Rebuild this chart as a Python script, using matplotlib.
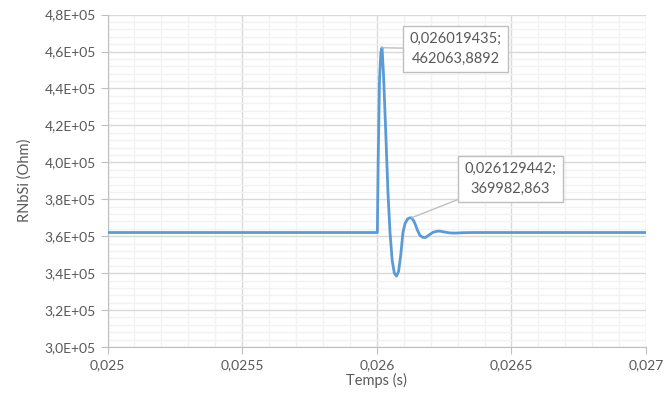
import matplotlib
matplotlib.use("Agg")
import matplotlib.pyplot as plt
from matplotlib.ticker import MultipleLocator, FuncFormatter

# time offsets (microseconds after 0.026 s)
t_us = [-1000, 0, 2, 5, 10, 15, 19.435, 25, 33, 41, 49, 57, 65, 73, 81, 89, 97,
        105, 115, 122, 129.442, 140, 150, 160, 170, 181, 195, 210, 225, 234,
        250, 270, 290, 320, 360, 1000]
r_ohm = [362000, 362000, 362000, 400000, 445000, 459500, 462063.8892, 447000,
         417000, 385000, 362000, 347000, 340000, 338400, 341000, 350000, 362000,
         367000, 369500, 369900, 369982.863, 367500, 363500, 360500, 359400,
         359300, 360800, 362200, 362700, 362750, 362300, 361800, 361700,
         361900, 362000, 362000]
temps = [0.026 + u * 1e-6 for u in t_us]

peaks = [(0.026019435, 462063.8892, "0,026019435;\n462063,8892", (20, -1)),
         (0.026129442, 369982.863, "0,026129442;\n369982,863", (38, 28))]

grey = "#595959"
plt.rcParams['font.family'] = ['Lato', 'DejaVu Sans']

fig = plt.figure(figsize=(6.64, 3.95), dpi=100)
ax = fig.add_axes([0.162, 0.1215, 0.811, 0.8415])

ax.plot(temps, r_ohm, color="#5b9bd5", lw=2, solid_joinstyle="round", zorder=3)

ax.set_xlim(0.025, 0.027)
ax.set_ylim(3.0e5, 4.8e5)
ax.xaxis.set_major_locator(MultipleLocator(0.0005))
ax.xaxis.set_minor_locator(MultipleLocator(0.0001))
ax.yaxis.set_major_locator(MultipleLocator(2e4))
ax.yaxis.set_minor_locator(MultipleLocator(4e3))

def fx(v, pos):
    return ("%g" % round(v, 6)).replace(".", ",")

def fy(v, pos):
    return ("%.1E" % v).replace(".", ",")

ax.xaxis.set_major_formatter(FuncFormatter(fx))
ax.yaxis.set_major_formatter(FuncFormatter(fy))

ax.grid(which="major", color="#d9d9d9", lw=1)
ax.grid(which="minor", color="#f2f2f2", lw=1)
ax.set_axisbelow(True)
for s in ["top", "right"]:
    ax.spines[s].set_visible(False)
for s in ["left", "bottom"]:
    ax.spines[s].set_color("#bfbfbf")
ax.tick_params(which="major", colors="#bfbfbf", labelcolor=grey, labelsize=10, length=5)
ax.tick_params(which="minor", length=0)
ax.tick_params(axis="x", pad=4)

ax.set_xlabel("Temps (s)", color=grey, fontsize=10.5, labelpad=1)
ax.set_ylabel("RNbSi (Ohm)", color=grey, fontsize=10.5, labelpad=9)

for x, y, txt, off in peaks:
    ax.annotate(txt, xy=(x, y), xytext=off, textcoords="offset points",
                ha="left", va="center", multialignment="center",
                color=grey, fontsize=10.5, linespacing=1.5,
                bbox=dict(boxstyle="square,pad=0.45", fc="white", ec="#bfbfbf", lw=1),
                arrowprops=dict(arrowstyle="-", color="#bfbfbf", lw=1,
                                shrinkA=0, shrinkB=0),
                zorder=5)

fig.savefig("out.png", dpi=100)
